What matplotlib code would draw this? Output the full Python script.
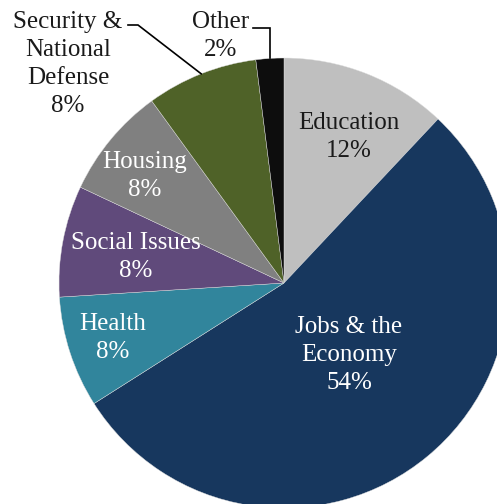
import numpy as np
import matplotlib
matplotlib.use("Agg")
import matplotlib.pyplot as plt

categories = ["Education", "Jobs & the\nEconomy", "Health", "Social Issues", "Housing",
              "Security &\nNational\nDefense", "Other"]
values = [12, 54, 8, 8, 8, 8, 2]
colors = ["#BFBFBF", "#17375E", "#31859C", "#604A7B", "#808080", "#4F6228", "#0D0D0D"]
text_colors = ["#1a1a1a", "white", "white", "white", "white", "#1a1a1a", "#1a1a1a"]

W, H = 497, 504
cx, cy = 284, 283
R = 225

fig = plt.figure(figsize=(W / 100, H / 100), dpi=100)
ax = fig.add_axes([0, 0, 1, 1])

wedges, _ = ax.pie(values, colors=colors, startangle=90, counterclock=False, radius=R,
                   wedgeprops=dict(edgecolor="#dddddd", linewidth=0.3), frame=True)
ax.set_xlim(-cx, W - cx)
ax.set_ylim(-(H - cy), cy)
ax.set_aspect("equal")
ax.axis("off")

font = "Liberation Serif"
fs = 18
# label positions (pixels offset from centre, y up)
label_pos = [(65, 146), (65, -72), (-171, -55), (-148, 26), (-139, 107), (-216, 219), (-63, 247)]
for cat, v, (x, y), tc in zip(categories, values, label_pos, text_colors):
    ax.text(x, y, f"{cat}\n{v}%", ha="center", va="center", color=tc,
            fontsize=fs, family=font, linespacing=1.35)

# leader lines
def mid_angle(i):
    start = 90 - sum(values[:i]) / sum(values) * 360
    return np.deg2rad(start - values[i] / sum(values) * 180)

a5 = mid_angle(5)
ex, ey = R * np.cos(a5), R * np.sin(a5)
ax.plot([-156, -146, ex], [258, 258, ey], color="black", lw=1.2, solid_joinstyle="miter")
a6 = mid_angle(6)
ex, ey = R * np.cos(a6), R * np.sin(a6)
ax.plot([-31, ex, ex], [255, 255, ey], color="black", lw=1.2, solid_joinstyle="miter")

fig.savefig("out.png", dpi=100, facecolor="white")
